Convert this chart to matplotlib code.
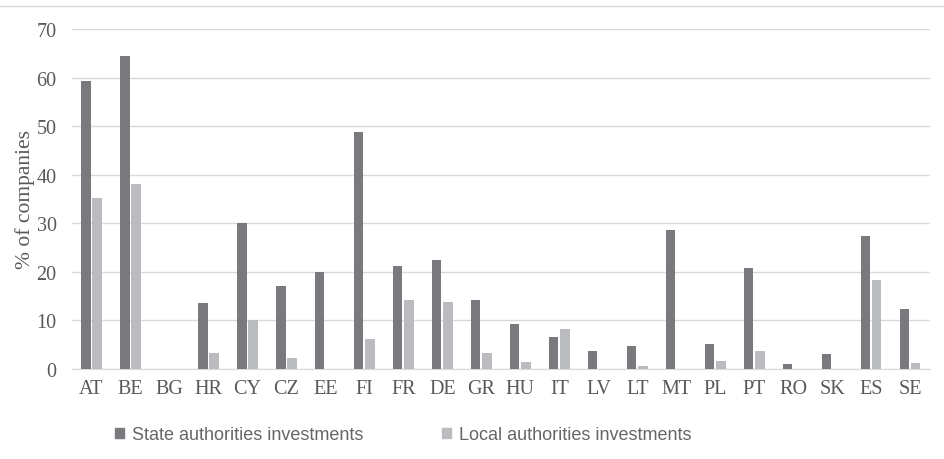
import matplotlib.pyplot as plt
import numpy as np
from matplotlib.patches import Rectangle
from matplotlib.lines import Line2D

countries = ['AT', 'BE', 'BG', 'HR', 'CY', 'CZ', 'EE', 'FI', 'FR', 'DE', 'GR',
             'HU', 'IT', 'LV', 'LT', 'MT', 'PL', 'PT', 'RO', 'SK', 'ES', 'SE']
state_inv = [59.3, 64.5, 0, 13.5, 30.0, 17.0, 20.0, 48.7, 21.1, 22.4, 14.2,
             9.3, 6.5, 3.6, 4.7, 28.6, 5.1, 20.8, 1.0, 3.1, 27.4, 12.4]
local_inv = [35.2, 38.0, 0, 3.3, 10.0, 2.2, 0, 6.1, 14.3, 13.7, 3.3,
             1.5, 8.3, 0, 0.6, 0, 1.6, 3.6, 0, 0, 18.3, 1.3]

dark = '#7a7a7e'
light = '#bbbcbf'
txt = '#595959'

fig = plt.figure(figsize=(9.44, 4.6), dpi=100)
ax = fig.add_axes([0.0763, 0.1957, 0.9087, 0.7391])

x = np.arange(len(countries))
w = 0.235
ax.bar(x - w / 2 - 0.025, state_inv, w, color=dark, zorder=3)
ax.bar(x + w / 2 + 0.025, local_inv, w, color=light, zorder=3)

ax.set_xlim(-0.5, len(countries) - 0.5)
ax.set_ylim(0, 70)
ax.set_yticks(range(0, 71, 10))
ax.set_xticks(x)
ax.set_xticklabels(countries)
ax.grid(axis='y', color='#d9d9d9', linewidth=1, zorder=0)
for s in ['top', 'right', 'left']:
    ax.spines[s].set_visible(False)
ax.spines['bottom'].set_color('#d9d9d9')
ax.tick_params(length=0, colors=txt, labelsize=14.5)
ax.tick_params(axis='x', pad=7)
ax.tick_params(axis='y', pad=11)
for lbl in ax.get_xticklabels() + ax.get_yticklabels():
    lbl.set_fontfamily('Liberation Serif')
ax.set_ylabel('% of companies', fontsize=15.5, color=txt,
              fontfamily='Liberation Serif', labelpad=1)

# legend
handles = [Rectangle((0, 0), 1, 1, color=dark), Rectangle((0, 0), 1, 1, color=light)]
leg = fig.legend(handles, ['State authorities investments', 'Local authorities investments'],
                 loc='center left', bbox_to_anchor=(0.105, 0.053), ncol=2, frameon=False,
                 handlelength=0.5, handleheight=0.5, handletextpad=0.4, columnspacing=4.4,
                 prop={'family': 'Liberation Sans', 'size': 13})
for t in leg.get_texts():
    t.set_color('#666666')

# light border line at top of chart area
fig.add_artist(Line2D([0, 1], [0.985, 0.985], color='#d9d9d9', linewidth=1,
                      transform=fig.transFigure))

fig.savefig('out.png', dpi=100)
